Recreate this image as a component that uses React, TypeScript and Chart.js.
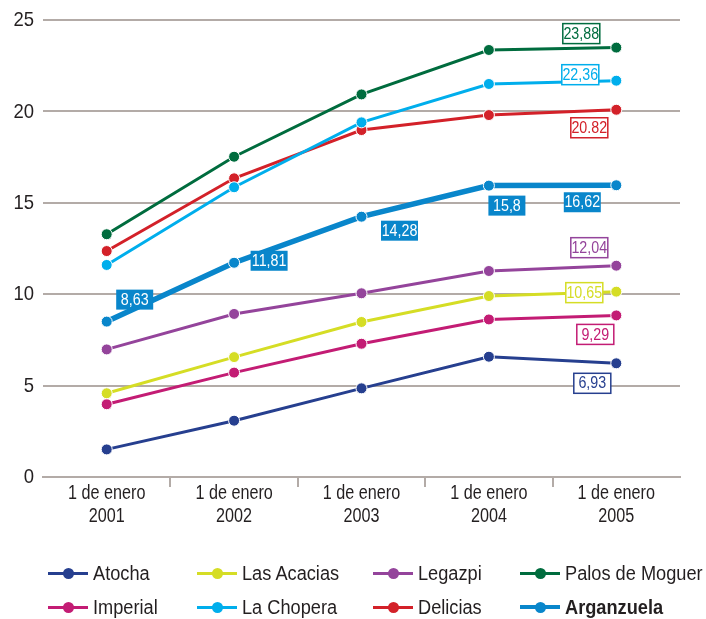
import React, { useEffect, useRef } from "react";
import { Chart, registerables } from "chart.js";

Chart.register(...registerables);

// ---------- DATA ----------
const categoryLines1 = ["1 de enero", "1 de enero", "1 de enero", "1 de enero", "1 de enero"];
const categoryLines2 = ["2001", "2002", "2003", "2004", "2005"];
const seriesNames = [
  "Atocha",
  "Las Acacias",
  "Legazpi",
  "Palos de Moguer",
  "Imperial",
  "La Chopera",
  "Delicias",
  "Arganzuela",
];
const atocha = [1.51, 3.08, 4.85, 6.58, 6.22];
const lasAcacias = [4.58, 6.56, 8.48, 9.9, 10.14];
const legazpi = [6.98, 8.92, 10.05, 11.27, 11.56];
const palosDeMoguer = [13.28, 17.52, 20.93, 23.36, 23.49];
const imperial = [3.98, 5.71, 7.29, 8.62, 8.84];
const laChopera = [11.6, 15.85, 19.4, 21.5, 21.68];
const delicias = [12.36, 16.34, 18.98, 19.8, 20.09];
const arganzuela = [8.5, 11.72, 14.24, 15.94, 15.96];
const seriesValues = [atocha, lasAcacias, legazpi, palosDeMoguer, imperial, laChopera, delicias, arganzuela];

const yMin = 0;
const yMax = 25;
const yStep = 5;
const yTickLabels = ["0", "5", "10", "15", "20", "25"];

// annotation texts (series index, point index, text)
const labelSeries = [3, 5, 6, 7, 7, 7, 7, 7, 2, 1, 4, 0];
const labelPoints = [4, 4, 4, 4, 3, 2, 1, 0, 4, 4, 4, 4];
const labelTexts = ["23,88", "22,36", "20.82", "16,62", "15,8", "14,28", "11,81", "8,63", "12,04", "10,65", "9,29", "6,93"];

// ---------- STYLES ----------
const FONT = '"Liberation Sans", Arial, sans-serif';
const TEXT = "#231f20";
const GRID = "#b3aba7";
const colors = ["#263f8f", "#d5dd25", "#94449b", "#006c3e", "#c31c74", "#00aeec", "#d32129", "#0986cb"];
const lineWidths = [3, 3, 3, 3, 3, 3, 3, 5.5];
const labelOffsets: [number, number][] = [
  [-35, -14],
  [-36, -6],
  [-27, 18],
  [-34, 17],
  [18, 20],
  [38, 14],
  [35, -2],
  [28, -22],
  [-27, -18],
  [-32, 1],
  [-21, 19],
  [-24, 20],
];
const legendCols = [48, 197, 373, 520];
const legendRows = [573, 607];
const legendOrder = [0, 1, 2, 3, 4, 5, 6, 7];

function drawNarrow(
  ctx: CanvasRenderingContext2D,
  text: string,
  x: number,
  y: number,
  align: CanvasTextAlign,
  size: number,
  sx: number,
  color: string,
  bold = false
) {
  ctx.save();
  ctx.translate(x, y);
  ctx.scale(sx, 1);
  ctx.font = `${bold ? "bold " : ""}${size}px ${FONT}`;
  ctx.textAlign = align;
  ctx.textBaseline = "middle";
  ctx.fillStyle = color;
  ctx.fillText(text, 0, 0);
  ctx.restore();
}

const axisTextPlugin = {
  id: "axisText",
  afterDraw(chart: any) {
    const ctx = chart.ctx;
    const ys = chart.scales.y;
    const xs = chart.scales.x;
    yTickLabels.forEach((t, i) => {
      const v = yMin + i * yStep;
      drawNarrow(ctx, t, ys.right - 9, ys.getPixelForValue(v) + 0.5, "right", 21, 0.88, TEXT);
    });
    categoryLines1.forEach((t, i) => {
      const x = xs.getPixelForValue(i);
      drawNarrow(ctx, t, x, xs.top + 17, "center", 19.5, 0.83, TEXT);
      drawNarrow(ctx, categoryLines2[i], x, xs.top + 39.5, "center", 19.5, 0.83, TEXT);
    });
  },
};

const labelPlugin = {
  id: "valueBoxes",
  afterDatasetsDraw(chart: any) {
    const ctx = chart.ctx;
    labelTexts.forEach((t, k) => {
      const si = labelSeries[k];
      const pt = chart.getDatasetMeta(si).data[labelPoints[k]];
      const [dx, dy] = labelOffsets[k];
      const cx = pt.x + dx;
      const cy = pt.y + dy;
      const w = 37;
      const h = 20;
      const filled = si === 7;
      ctx.save();
      if (filled) {
        ctx.fillStyle = colors[si];
        ctx.fillRect(cx - w / 2, cy - h / 2, w, h);
      } else {
        ctx.fillStyle = "#ffffff";
        ctx.fillRect(cx - w / 2, cy - h / 2, w, h);
        ctx.strokeStyle = colors[si];
        ctx.lineWidth = 1.5;
        ctx.strokeRect(cx - w / 2, cy - h / 2, w, h);
      }
      ctx.restore();
      drawNarrow(ctx, t, cx, cy + 0.5, "center", 17, 0.84, filled ? "#ffffff" : colors[si]);
    });
  },
};

export default function App() {
  const ref = useRef<HTMLCanvasElement | null>(null);

  useEffect(() => {
    if (!ref.current) return;
    const chart = new Chart(ref.current, {
      type: "line",
      data: {
        labels: categoryLines2,
        datasets: seriesValues.map((vals, i) => ({
          label: seriesNames[i],
          data: vals,
          borderColor: colors[i],
          backgroundColor: colors[i],
          borderWidth: lineWidths[i],
          pointRadius: 5.5,
          pointBackgroundColor: colors[i],
          pointBorderColor: "#ffffff",
          pointBorderWidth: 1,
          tension: 0,
          fill: false,
        })),
      },
      options: {
        responsive: false,
        animation: false,
        layout: { padding: { top: 20, right: 26, left: 0, bottom: 0 } },
        plugins: { legend: { display: false }, tooltip: { enabled: false } },
        scales: {
          x: {
            type: "category",
            offset: true,
            afterFit: (s: any) => {
              s.height = 142;
            },
            grid: {
              offset: true,
              drawOnChartArea: false,
              drawTicks: true,
              tickLength: 10,
              lineWidth: 2,
              color: (c: any) => (c.index === undefined || c.index === 0 ? "rgba(0,0,0,0)" : GRID),
            },
            border: { display: true, color: GRID, width: 2 },
            ticks: { display: false, autoSkip: false },
          },
          y: {
            min: yMin,
            max: yMax,
            afterFit: (s: any) => {
              s.width = 43;
            },
            grid: { color: GRID, lineWidth: 2, drawTicks: false },
            border: { display: false },
            ticks: { stepSize: yStep, display: false },
          },
        },
      },
      plugins: [labelPlugin, axisTextPlugin],
    });
    return () => chart.destroy();
  }, []);

  return (
    <div style={{ position: "fixed", left: 0, top: 0, width: 706, height: 619, background: "#fff" }}>
      <canvas ref={ref} width={706} height={619} style={{ position: "absolute", left: 0, top: 0 }} />
      {legendOrder.map((si, k) => {
        const col = k % 4;
        const row = Math.floor(k / 4);
        const x = legendCols[col];
        const y = legendRows[row];
        const bold = si === 7;
        const lw = bold ? 4.5 : 3;
        return (
          <div key={si} style={{ position: "absolute", left: x, top: y - 15, height: 30 }}>
            <div
              style={{
                position: "absolute",
                left: 0,
                top: 15 - lw / 2,
                width: 40,
                height: lw,
                background: colors[si],
              }}
            />
            <div
              style={{
                position: "absolute",
                left: 20 - 5.5,
                top: 15 - 5.5,
                width: 11,
                height: 11,
                borderRadius: "50%",
                background: colors[si],
              }}
            />
            <div
              style={{
                position: "absolute",
                left: 45,
                top: 0,
                height: 30,
                lineHeight: "30px",
                whiteSpace: "nowrap",
                fontFamily: FONT,
                fontSize: 20,
                fontWeight: bold ? "bold" : "normal",
                color: TEXT,
                transform: "scaleX(0.91)",
                transformOrigin: "left center",
              }}
            >
              {seriesNames[si]}
            </div>
          </div>
        );
      })}
    </div>
  );
}
